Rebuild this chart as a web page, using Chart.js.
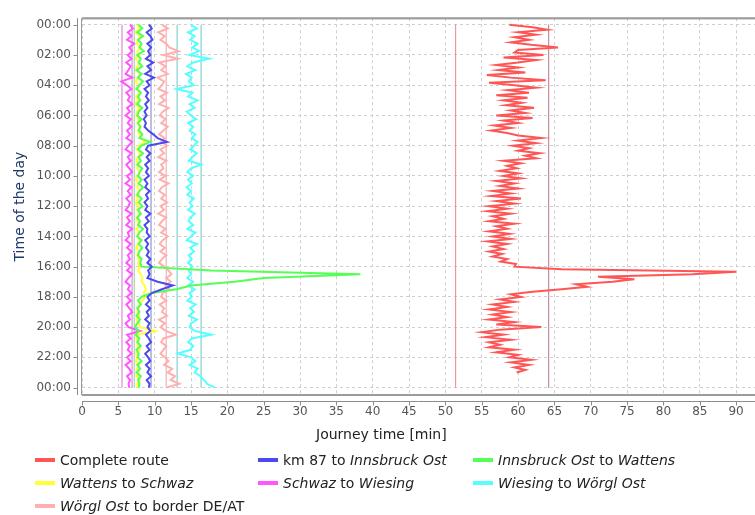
<!DOCTYPE html>
<html>
<head>
<meta charset="utf-8">
<script src="https://cdn.jsdelivr.net/npm/chart.js@4.4.1/dist/chart.umd.min.js"></script>
<style>
  body { margin: 0; background: #fff; }
  #wrap { position: relative; width: 755px; height: 515px; overflow: hidden; }
  #xtitle { position: absolute; left: 316px; top: 426px; font: 14px "DejaVu Sans", sans-serif; color: #222; white-space: nowrap; }
  .item { position: absolute; font: 14px "DejaVu Sans", sans-serif; color: #222; white-space: nowrap; line-height: 16px; }
  .item span.sw { display: inline-block; width: 20px; height: 4px; margin-right: 5px; vertical-align: middle; position: relative; top: -1px; }
</style>
</head>
<body>
<div id="wrap">
  <canvas id="chart" width="755" height="515"></canvas>
  <div id="xtitle">Journey time [min]</div>
  <div id="legend"></div>
</div>
<script>
// tick labels
const hourTicks = ['00:00', '02:00', '04:00', '06:00', '08:00', '10:00', '12:00',
                   '14:00', '16:00', '18:00', '20:00', '22:00', '00:00'];
const hourTickValues = [0, 2, 4, 6, 8, 10, 12, 14, 16, 18, 20, 22, 24];
const journeyTicks = [0, 5, 10, 15, 20, 25, 30, 35, 40, 45, 50, 55, 60, 65, 70, 75, 80, 85, 90];

const seriesLabels = [
  'Complete route',
  'km 87 to <i>Innsbruck Ost</i>',
  '<i>Innsbruck Ost</i> to <i>Wattens</i>',
  '<i>Wattens</i> to <i>Schwaz</i>',
  '<i>Schwaz</i> to <i>Wiesing</i>',
  '<i>Wiesing</i> to <i>Wörgl Ost</i>',
  '<i>Wörgl Ost</i> to border DE/AT'
];

// journey time [min], one value every 10 minutes from 00:00 to 23:00
const completeRoute = [
  58.8, 62.0, 64.0, 60.0, 62.5, 59.5,
  61.5, 59.0, 61.8, 65.5, 60.0, 59.5,
  63.5, 58.0, 62.5, 60.0, 57.0, 60.0,
  57.3, 61.0, 55.7, 59.0, 63.8, 56.0,
  59.5, 62.5, 58.6, 61.5, 57.0, 61.3,
  58.0, 60.5, 58.3, 62.2, 59.0, 61.0,
  57.0, 62.0, 58.0, 60.0, 56.7, 59.0,
  56.3, 58.5, 60.0, 63.2, 60.0, 62.5,
  59.3, 61.5, 60.0, 63.0, 61.0, 62.5,
  58.0, 60.4, 58.5, 59.8, 57.5, 60.0,
  58.0, 60.4, 57.0, 59.5, 57.5, 60.0,
  56.5, 59.0, 56.3, 60.4, 57.0, 59.5,
  56.0, 58.5, 55.8, 59.0, 56.5, 58.0,
  56.0, 59.5, 57.0, 58.5, 56.0, 58.8,
  56.5, 59.0, 55.8, 58.5, 56.5, 58.0,
  56.0, 57.8, 56.5, 58.5, 57.6, 59.7,
  59.5, 66.0, 90.0, 84.0, 71.0, 76.0,
  73.0, 68.0, 69.5, 66.0, 62.0, 59.0,
  60.4, 57.5, 59.5, 56.5, 58.5, 56.0,
  59.0, 56.5, 58.5, 56.0, 59.5, 57.0,
  63.2, 57.5, 55.0, 58.0, 55.5, 59.0,
  56.0, 57.5, 56.0, 59.5, 57.0, 60.0,
  58.8, 61.8, 59.0, 61.5, 59.5, 61.0,
  59.8
];

// segments: one value every 15 minutes from 00:00 to 24:00
const km87ToInnsbruckOst = [
  9.2, 9.6, 8.9, 9.4,   9.7, 9.0, 9.5, 9.1,   9.4, 8.8, 9.8, 9.0,   9.5, 8.7, 9.9, 8.9,
  9.3, 8.6, 9.1, 8.8,   9.2, 8.7, 9.0, 8.6,   8.9, 8.5, 8.8, 8.6,   9.1, 9.8, 10.4, 11.7,
  9.1, 8.8, 9.4, 8.9,   9.3, 8.7, 9.1, 8.8,   9.2, 8.6, 9.0, 8.7,   9.3, 8.8, 9.1, 8.6,
  9.0, 8.7, 9.4, 8.8,   9.2, 8.6, 9.0, 8.9,   9.3, 8.7, 9.1, 8.8,   9.2, 8.9, 9.4, 9.0,
  9.6, 9.1, 9.3, 9.0,   10.4, 12.5, 11.0, 9.6, 9.0, 9.3, 8.8, 9.4,  8.9, 9.2, 8.7, 9.3,
  9.0, 9.4, 8.8, 9.2,   9.5, 8.9, 9.3, 8.7,   9.1, 9.4, 8.8, 9.3,   9.0, 9.5, 8.9, 9.3,
  9.2
];
const innsbruckToWattens = [
  7.8, 8.3, 7.6, 8.4,   7.7, 8.2, 7.9, 8.5,   7.6, 8.1, 7.8, 8.3,   7.5, 8.2, 7.7, 8.4,
  7.9, 7.5, 8.1, 7.7,   8.0, 7.6, 8.3, 7.8,   7.6, 8.2, 7.7, 8.0,   7.8, 8.3, 7.9, 9.4,
  8.2, 7.7, 8.4, 7.8,   8.1, 7.6, 8.3, 7.9,   7.7, 8.2, 7.8, 8.4,   7.9, 7.6, 8.2, 7.8,
  8.3, 7.7, 8.1, 7.6,   8.0, 7.7, 8.4, 7.9,   7.6, 8.2, 7.8, 8.3,   7.9, 7.7, 8.2, 8.0,
  8.2, 17.8, 38.3, 25.0, 21.0, 15.0, 13.0, 9.5, 8.2, 7.7, 8.1, 7.6,  7.9, 7.5, 8.0, 7.6,
  7.3, 7.8, 7.4, 7.9,   7.6, 8.1, 7.5, 7.8,   7.7, 8.2, 7.6, 8.0,   7.5, 8.1, 7.7, 7.9,
  7.8
];
const wattensToSchwaz = [
  7.6, 7.9, 7.4, 8.0,   7.7, 7.5, 8.1, 7.6,   7.8, 7.4, 7.9, 7.6,   7.5, 8.0, 7.7, 7.4,
  7.8, 7.6, 8.0, 7.5,   7.7, 7.4, 7.9, 7.6,   7.5, 7.8, 7.6, 8.1,   7.7, 7.9, 8.2, 8.6,
  7.9, 7.6, 8.0, 7.7,   7.5, 7.9, 7.6, 8.0,   7.7, 7.4, 7.8, 7.6,   7.9, 7.5, 7.7, 7.4,
  7.8, 7.6, 8.0, 7.5,   7.7, 7.9, 7.5, 7.8,   7.6, 8.0, 7.7, 7.5,   7.8, 7.6, 7.9, 7.7,
  8.0, 7.7, 8.1, 8.3,   8.2, 8.6, 8.8, 8.5,   8.7, 8.3, 8.0, 7.8,   7.6, 7.9, 7.5, 7.8,
  8.0, 10.1, 7.7, 7.5,  7.8, 7.6, 8.0, 7.5,   7.7, 7.4, 7.9, 7.6,   7.8, 7.5, 8.0, 7.6,
  7.7
];
const schwazToWiesing = [
  6.6, 7.0, 6.3, 6.8,   6.2, 7.2, 6.5, 6.9,   6.3, 6.8, 6.1, 6.7,   6.4, 6.0, 6.9, 5.4,
  6.2, 6.8, 6.1, 6.6,   6.3, 6.9, 6.2, 6.6,   6.0, 6.7, 6.3, 6.8,   6.2, 6.6, 6.1, 6.9,
  6.4, 6.0, 6.8, 6.3,   6.7, 6.1, 6.5, 6.9,   6.2, 6.6, 6.0, 6.8,   6.3, 6.7, 6.1, 6.6,
  6.4, 6.0, 6.8, 6.2,   6.6, 6.1, 6.9, 6.3,   6.5, 6.0, 6.7, 6.2,   6.8, 6.3, 6.6, 6.1,
  6.7, 6.2, 6.9, 6.4,   6.0, 6.6, 6.3, 6.8,   6.2, 6.7, 6.1, 6.5,   6.9, 6.3, 6.6, 6.0,
  6.4, 8.0, 6.2, 6.7,   6.1, 6.6, 6.3, 6.8,   6.2, 6.7, 6.0, 6.5,   6.8, 6.2, 6.6, 6.4,
  6.5
];
const wiesingToWoerglOst = [
  15.0, 15.8, 14.6, 15.5,  14.9, 15.9, 15.2, 16.1,  14.8, 17.5, 15.3, 14.5,  15.6, 14.3, 15.1, 14.7,
  15.4, 13.0, 15.2, 14.6,  15.9, 14.8, 15.5, 14.4,  15.0, 15.7, 14.6, 15.3,  14.8, 15.6, 15.1, 15.9,
  15.4, 14.9, 15.8, 15.2,  14.7, 16.4, 15.0, 14.5,  15.3, 14.6, 15.1, 14.4,  15.0, 14.5, 15.4, 14.8,
  15.2, 14.6, 15.5, 14.9,  14.7, 15.3, 14.5, 15.6,  15.0, 14.4, 15.8, 14.9,  15.4, 14.7, 15.1, 14.6,
  15.2, 14.7, 15.0, 14.5,  15.3, 14.6, 15.5, 14.8,  15.1, 14.5, 15.6, 14.9,  15.4, 14.7, 15.8, 15.0,
  14.8, 15.5, 17.8, 15.1,  14.6, 15.3, 14.9, 13.2,  15.0, 15.6, 14.8, 15.9,  15.5, 16.3, 16.8, 17.2,
  18.3
];
const woerglOstToBorder = [
  11.0, 11.8, 10.5, 11.4,  10.8, 11.6, 12.0, 13.3,  11.2, 13.2, 10.6, 11.5,  10.9, 11.8, 10.4, 11.3,
  11.0, 10.5, 11.7, 10.8,  11.4, 10.6, 11.9, 11.1,  10.7, 11.5, 10.9, 11.8,  11.2, 10.6, 11.4, 10.9,
  11.7, 10.8, 11.3, 10.5,  11.6, 10.9, 11.2, 10.6,  11.5, 10.7, 11.9, 11.0,  10.6, 11.4, 10.9, 11.7,
  10.8, 11.3, 10.5, 11.6,  11.0, 10.6, 11.5, 10.9,  11.8, 11.1, 10.7, 11.4,  10.8, 11.6, 11.0, 10.6,
  11.3, 11.9, 12.3, 11.6,  12.2, 11.5, 12.0, 11.1,  10.9, 11.6, 10.7, 11.3,  11.0, 11.7, 10.6, 11.4,
  10.8, 11.5, 12.9, 11.2,  10.9, 11.6, 11.2, 10.8,  11.4, 11.9, 11.3, 12.4,  11.8, 12.8, 12.2, 13.4,
  11.6
];

// reference journey times drawn as vertical lines [min]
const referenceMinutes = [5.5, 6.9, 7.2, 9.5, 11.6, 13.1, 16.4, 51.4, 64.2];

const seriesColors = ['#ff5555', '#4a4aee', '#55ff55', '#ffff33', '#ff55ff', '#55ffff', '#ffafaf'];
const referenceColors = ['#e6aee6', '#e6aee6', '#aee0ae', '#b4b4e0', '#eec4c4', '#a6dcdc', '#a6dcdc', '#e89a9a', '#c9909e'];

const toPoints = (values, stepHours) => values.map((v, i) => ({ x: v, y: i * stepHours }));

const allSeries = [
  toPoints(completeRoute, 1 / 6),
  toPoints(km87ToInnsbruckOst, 0.25),
  toPoints(innsbruckToWattens, 0.25),
  toPoints(wattensToSchwaz, 0.25),
  toPoints(schwazToWiesing, 0.25),
  toPoints(wiesingToWoerglOst, 0.25),
  toPoints(woerglOstToBorder, 0.25)
];

const datasets = allSeries.map((pts, i) => ({
  label: seriesLabels[i].replace(/<[^>]+>/g, ''),
  data: pts,
  showLine: true,
  borderColor: seriesColors[i],
  backgroundColor: seriesColors[i],
  borderWidth: 2,
  pointRadius: 0,
  tension: 0
}));

referenceMinutes.forEach((m, i) => {
  datasets.push({
    label: 'ref' + i,
    data: [{ x: m, y: 0 }, { x: m, y: 24 }],
    showLine: true,
    borderColor: referenceColors[i],
    borderWidth: 1,
    pointRadius: 0
  });
});

// plot frame and the detached axis lines
const frame = {
  id: 'frame',
  afterDraw(chart) {
    const { ctx, chartArea: a, scales } = chart;
    ctx.save();
    ctx.strokeStyle = '#9a9a9a';
    ctx.lineWidth = 1;
    ctx.strokeRect(a.left - 0.5, a.top + 0.5, a.right - a.left + 1, a.bottom - a.top - 1);
    ctx.lineWidth = 2;
    ctx.beginPath();
    ctx.moveTo(a.left, a.top); ctx.lineTo(a.right, a.top);
    ctx.moveTo(a.left, a.bottom); ctx.lineTo(a.right, a.bottom);
    ctx.stroke();

    ctx.strokeStyle = '#8c8c8c';
    ctx.lineWidth = 1;
    ctx.beginPath();
    const ax = a.left - 4.5;
    ctx.moveTo(ax, a.top); ctx.lineTo(ax, a.bottom);
    hourTickValues.forEach(v => {
      const y = Math.round(scales.y.getPixelForValue(v)) + 0.5;
      ctx.moveTo(ax - 4, y); ctx.lineTo(ax, y);
    });
    const ay = a.bottom + 6.5;
    ctx.moveTo(a.left, ay); ctx.lineTo(a.right, ay);
    journeyTicks.forEach(v => {
      const x = Math.round(scales.x.getPixelForValue(v)) + 0.5;
      ctx.moveTo(x, ay); ctx.lineTo(x, ay + 4);
    });
    ctx.stroke();
    ctx.restore();
  }
};

const tickFont = { family: 'DejaVu Sans', size: 12 };

new Chart(document.getElementById('chart'), {
  type: 'scatter',
  data: { datasets },
  options: {
    responsive: false,
    animation: false,
    layout: { padding: { top: 6, left: 0, right: 0, bottom: 0 } },
    plugins: { legend: { display: false }, tooltip: { enabled: false } },
    scales: {
      x: {
        type: 'linear',
        min: 0,
        max: 92.6,
        afterBuildTicks: s => { s.ticks = journeyTicks.map(v => ({ value: v })); },
        afterFit: s => { s.height = 120; },
        grid: { color: '#cfcfcf', drawTicks: false },
        border: { display: false, dash: [3, 3] },
        ticks: { font: tickFont, color: '#555', padding: 10, maxRotation: 0, autoSkip: false }
      },
      y: {
        type: 'linear',
        reverse: true,
        min: -0.43,
        max: 24.49,
        afterBuildTicks: s => { s.ticks = hourTickValues.map(v => ({ value: v })); },
        afterFit: s => { s.width = 82; },
        grid: { color: '#cfcfcf', drawTicks: false },
        border: { display: false, dash: [3, 3] },
        ticks: {
          font: tickFont, color: '#555', padding: 11, autoSkip: false,
          callback: (v, i) => hourTicks[i]
        },
        title: {
          display: true,
          text: 'Time of the day',
          color: '#1d3a6b',
          font: { family: 'DejaVu Sans', size: 14 },
          padding: { top: 12, bottom: 0 }
        }
      }
    }
  },
  plugins: [frame]
});

// legend with the italic place names
const legend = document.getElementById('legend');
const legendCols = [35, 258, 473];
const legendRows = [452, 475, 498];
seriesLabels.forEach((txt, i) => {
  const el = document.createElement('div');
  el.className = 'item';
  el.style.left = legendCols[i % 3] + 'px';
  el.style.top = legendRows[Math.floor(i / 3)] + 'px';
  el.innerHTML = '<span class="sw" style="background:' + seriesColors[i] + '"></span>' + txt;
  legend.appendChild(el);
});
</script>
</body>
</html>
